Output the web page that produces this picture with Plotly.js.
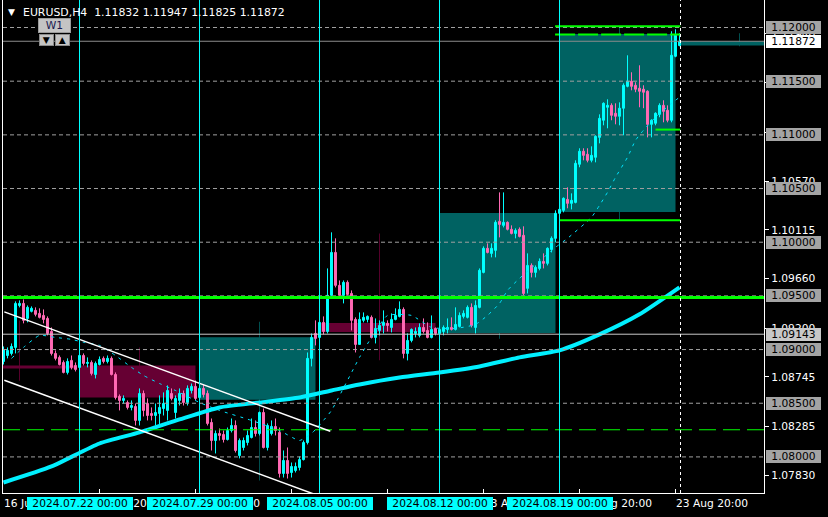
<!DOCTYPE html>
<html><head><meta charset="utf-8">
<script src="https://cdn.plot.ly/plotly-3.0.1.min.js"></script>
<style>html,body{margin:0;padding:0;background:#000;}#chart{width:828px;height:517px;}</style>
</head><body><div id="chart"></div>
<script>
// ---------------- DATA ----------------
const symbol = "EURUSD,H4";
// H4 bars, index 0 = 16 Jul 2024 20:00 ... 169 = 26 Aug 2024 00:00
const open = [
1.08889,1.08945,1.08964,1.09020,1.09411,1.09430,1.09290,1.09356,1.09365,1.09337,
1.09318,1.09290,1.09169,1.08964,1.08927,1.08880,1.08787,1.08899,1.08852,1.08834,
1.08945,1.08871,1.08880,1.08768,1.08861,1.08918,1.08889,1.08918,1.08768,1.08564,
1.08526,1.08507,1.08461,1.08470,1.08340,1.08591,1.08498,1.08405,1.08386,1.08405,
1.08451,1.08433,1.08591,1.08414,1.08526,1.08591,1.08507,1.08619,1.08657,1.08554,
1.08638,1.08591,1.08321,1.08153,1.08218,1.08209,1.08162,1.08246,1.08293,1.08013,
1.08088,1.08134,1.08181,1.08274,1.08218,1.08414,1.08088,1.08218,1.08284,1.08228,
1.07846,1.07967,1.07855,1.07874,1.07902,1.07975,1.08134,1.08918,1.09150,1.09113,
1.09253,1.09169,1.09505,1.09905,1.09598,1.09505,1.09626,1.09523,1.09281,1.09048,
1.09272,1.09281,1.09300,1.09113,1.09178,1.09225,1.09244,1.09206,1.09281,1.09309,
1.09374,1.08964,1.09085,1.09150,1.09132,1.09206,1.09178,1.09113,1.09197,1.09150,
1.09169,1.09188,1.09206,1.09188,1.09216,1.09309,1.09300,1.09393,1.09206,1.09393,
1.09719,1.09943,1.09896,1.09924,1.10194,1.10157,1.10185,1.10120,1.10082,1.10120,
1.10064,1.09570,1.09784,1.09719,1.09756,1.09821,1.09803,1.09933,1.10036,1.10269,
1.10297,1.10399,1.10362,1.10371,1.10726,1.10847,1.10819,1.10763,1.10791,1.10977,
1.11136,1.11257,1.11275,1.11201,1.11173,1.11248,1.11452,1.11499,1.11462,1.11434,
1.11425,1.11406,1.11098,1.11108,1.11191,1.11275,1.11229,1.11136,1.11732,1.11832];
const high = [
1.09029,1.09020,1.09057,1.09449,1.09458,1.09467,1.09411,1.09402,1.09393,1.09384,
1.09374,1.09309,1.09206,1.08992,1.08945,1.08899,1.08918,1.08945,1.08880,1.08964,
1.08964,1.08927,1.08899,1.08889,1.08936,1.08936,1.08945,1.08936,1.08787,1.08582,
1.08573,1.08526,1.08526,1.08498,1.08638,1.08619,1.08545,1.08461,1.08498,1.08573,
1.08601,1.08666,1.08638,1.08573,1.08638,1.08619,1.08666,1.08684,1.08712,1.08666,
1.08675,1.08619,1.08358,1.08246,1.08265,1.08246,1.08274,1.08358,1.08340,1.08172,
1.08181,1.08246,1.08358,1.08340,1.08423,1.08451,1.08312,1.08340,1.08358,1.08274,
1.08060,1.08088,1.07948,1.07948,1.08004,1.08153,1.08973,1.09150,1.09272,1.09290,
1.09309,1.09756,1.10092,1.10036,1.09644,1.09644,1.09644,1.09551,1.09300,1.09346,
1.09346,1.09318,1.09318,1.09290,1.09272,1.09365,1.09272,1.09337,1.09384,1.09449,
1.09393,1.09150,1.09197,1.09206,1.09244,1.09290,1.09253,1.09318,1.09206,1.09197,
1.09225,1.09290,1.09300,1.09393,1.09346,1.09365,1.09411,1.09430,1.09458,1.09756,
1.09961,1.09989,1.09989,1.10204,1.10464,1.10464,1.10194,1.10157,1.10129,1.10138,
1.10148,1.09896,1.09803,1.09784,1.09849,1.09896,1.09952,1.10054,1.10297,1.10325,
1.10418,1.10511,1.10455,1.10763,1.10875,1.10875,1.10875,1.10893,1.10996,1.11191,
1.11303,1.11331,1.11294,1.11294,1.11303,1.11480,1.11741,1.11583,1.11490,1.11648,
1.11462,1.11415,1.11145,1.11210,1.11294,1.11322,1.11275,1.11965,1.11984,1.11947];
const low = [
1.08861,1.08918,1.08945,1.08964,1.09393,1.09244,1.09253,1.09346,1.09309,1.09290,
1.09244,1.09132,1.08945,1.08899,1.08852,1.08778,1.08768,1.08815,1.08796,1.08824,
1.08852,1.08834,1.08759,1.08731,1.08852,1.08871,1.08871,1.08759,1.08535,1.08433,
1.08498,1.08442,1.08433,1.08293,1.08293,1.08377,1.08340,1.08340,1.08293,1.08293,
1.08386,1.08340,1.08526,1.08358,1.08479,1.08479,1.08479,1.08591,1.08526,1.08526,
1.08554,1.08293,1.08060,1.08032,1.08153,1.08134,1.08153,1.08228,1.08041,1.07986,
1.08060,1.08107,1.08172,1.08190,1.08200,1.08079,1.08060,1.08200,1.08200,1.07808,
1.07808,1.07799,1.07808,1.07855,1.07874,1.07967,1.08116,1.08843,1.09039,1.09039,
1.09141,1.09150,1.09486,1.09579,1.09486,1.09430,1.09505,1.09178,1.08973,1.09048,
1.09253,1.09253,1.09104,1.09057,1.09132,1.09150,1.09169,1.09160,1.09272,1.09300,
1.08918,1.08899,1.09067,1.09113,1.09113,1.09150,1.09104,1.09104,1.09132,1.09122,
1.09132,1.09150,1.09178,1.09178,1.09206,1.09290,1.09290,1.09206,1.09150,1.09384,
1.09710,1.09896,1.09859,1.09859,1.10045,1.10138,1.10110,1.10073,1.10036,1.10045,
1.09505,1.09523,1.09672,1.09672,1.09738,1.09756,1.09784,1.09905,1.09999,1.10250,
1.10278,1.10316,1.10306,1.10362,1.10698,1.10763,1.10744,1.10744,1.10744,1.10921,
1.11089,1.11061,1.11136,1.11098,1.11089,1.10996,1.11443,1.11415,1.11397,1.11257,
1.11248,1.10977,1.10977,1.11089,1.11164,1.11117,1.11117,1.11117,1.11723,1.11825];
const close = [
1.09001,1.08992,1.09029,1.09430,1.09430,1.09272,1.09393,1.09384,1.09328,1.09300,
1.09281,1.09150,1.08964,1.08918,1.08861,1.08787,1.08889,1.08834,1.08815,1.08945,
1.08871,1.08880,1.08778,1.08871,1.08908,1.08889,1.08918,1.08768,1.08554,1.08526,
1.08545,1.08461,1.08479,1.08340,1.08591,1.08433,1.08386,1.08386,1.08414,1.08461,
1.08498,1.08619,1.08545,1.08545,1.08591,1.08507,1.08638,1.08657,1.08545,1.08638,
1.08582,1.08312,1.08153,1.08218,1.08200,1.08162,1.08246,1.08293,1.08060,1.08153,
1.08153,1.08200,1.08274,1.08218,1.08414,1.08088,1.08293,1.08284,1.08246,1.07846,
1.07967,1.07846,1.07911,1.07911,1.07975,1.08134,1.08918,1.09113,1.09104,1.09253,
1.09169,1.09505,1.09905,1.09598,1.09505,1.09626,1.09514,1.09272,1.09048,1.09281,
1.09300,1.09309,1.09113,1.09197,1.09225,1.09253,1.09225,1.09281,1.09318,1.09374,
1.08964,1.09085,1.09188,1.09169,1.09206,1.09169,1.09113,1.09188,1.09150,1.09188,
1.09206,1.09206,1.09188,1.09234,1.09318,1.09337,1.09393,1.09225,1.09411,1.09738,
1.09943,1.09905,1.09943,1.10185,1.10166,1.10185,1.10120,1.10082,1.10110,1.10054,
1.09523,1.09784,1.09719,1.09766,1.09821,1.09803,1.09943,1.10036,1.10269,1.10306,
1.10409,1.10362,1.10390,1.10735,1.10847,1.10809,1.10763,1.10809,1.10986,1.11154,
1.11294,1.11275,1.11182,1.11173,1.11248,1.11462,1.11499,1.11452,1.11425,1.11406,
1.11397,1.11098,1.11136,1.11201,1.11275,1.11219,1.11136,1.11741,1.11928,1.11872];

// slow moving average (thick line), read at sample bars
const maBars = [0,12,24,34,44,54,64,74,82,89,99,109,119,129,139,149,159,169];
const maVals = [1.07762,1.07911,1.08125,1.08228,1.08349,1.08461,1.08507,1.08554,1.08619,1.08675,1.08740,1.08787,1.08843,1.08927,1.08992,1.09141,1.09328,1.09579];
// fast moving average (dotted line)
const fmBars = [2,5,9,13,17,20,24,28,32,35,39,43,49,54,62,69,74,77,80,82,89,92,96,102,107,113,118,121,124,126,129,138,141,147,149,151,153,156,158,160,163,167,169];
const fmVals = [1.08918,1.09020,1.09132,1.09113,1.09095,1.09067,1.09039,1.08945,1.08834,1.08759,1.08684,1.08619,1.08507,1.08433,1.08340,1.08246,1.08153,1.08218,1.08340,1.08433,1.08927,1.09113,1.09318,1.09318,1.09206,1.09197,1.09234,1.09318,1.09430,1.09551,1.09663,1.09952,1.10036,1.10232,1.10343,1.10465,1.10604,1.10791,1.10949,1.11043,1.11164,1.11294,1.11350];

// weekly candles (first bar of each week)
const wkStart = [-11,19,49,79,109,139,169];
const wkOpen  = [1.08852,1.08852,1.08533,1.09247,1.09155,1.10282,1.11832];
const wkClose = [1.08824,1.08554,1.09115,1.09163,1.10273,1.11940,1.11872];
const wkHigh  = [1.09270,1.09020,1.09260,1.10080,1.10460,1.12000,1.11947];
const wkLow   = [1.08710,1.08300,1.07780,1.08900,1.09100,1.10200,1.11825];

// axis labels
const xTickBars = [0,24,48,72,96,120,144,168];
const xTickText = ["16 Jul 2024","22 Jul 20:00","26 Jul 20:00","1 Aug 20:00","7 Aug 20:00","13 Aug 20:00","19 Aug 20:00","23 Aug 20:00"];
const sepBars = [19,49,79,109,139];
const sepText = ["2024.07.22 00:00","2024.07.29 00:00","2024.08.05 00:00","2024.08.12 00:00","2024.08.19 00:00"];
const yTickVals = [1.07830,1.08285,1.08745,1.09200,1.09660,1.10115,1.10570,1.11025,1.11485,1.11940];
const roundLevels = [1.08,1.085,1.09,1.095,1.10,1.105,1.11,1.115,1.12];
const hLinePrice = 1.09143;
const currentBar = 169.25;

// green horizontal lines
const greenPrices = [1.09484,1.12012,1.11934,1.10204,1.11049,1.08253];
const greenFrom   = [null,137.9,137.9,139,163,null];
const greenTo     = [null,169.2,169.2,169.2,169.2,null];
// channel
const chanBars  = [0.2,81.7];
const chanUpper = [1.09351,1.08239];
const chanLower = [1.08714,1.07598];

// ---------------- DRAW ----------------
const FONT = "DejaVu Sans, sans-serif";
const FS = 10.7;
const UP = "#00FFFF", DN = "#FF69B4";
const bars = open.map((_, i) => i);
const bidPrice = close[close.length - 1];
const XR = [-0.125, 190.125];
const YR = [1.076639, 1.122562];

const wkBull = wkStart.map((_, i) => wkClose[i] >= wkOpen[i]);
const traces = [
  { type: 'bar', x: wkStart.map(s => s + 15), base: wkLow, y: wkHigh.map((h, i) => h - wkLow[i]),
    width: 0.25, marker: { color: wkBull.map(b => b ? '#005050' : '#55002B'), line: { width: 0 } }, hoverinfo: 'skip' },
  { type: 'bar', x: wkStart.map(s => s + 14.5), base: wkOpen.map((o, i) => Math.min(o, wkClose[i])),
    y: wkOpen.map((o, i) => Math.abs(wkClose[i] - o)), width: 29,
    marker: { color: wkBull.map(b => b ? '#006262' : '#660033'), line: { width: 0 } }, hoverinfo: 'skip' },
  { type: 'candlestick', x: bars, open: open, high: high, low: low, close: close,
    increasing: { line: { color: UP, width: 1 }, fillcolor: UP },
    decreasing: { line: { color: DN, width: 1 }, fillcolor: DN },
    whiskerwidth: 0, hoverinfo: 'skip' },
  { type: 'scatter', mode: 'lines', x: maBars, y: maVals, line: { color: '#00F0FF', width: 4, shape: 'spline', smoothing: 0.6 }, hoverinfo: 'skip' },
  { type: 'scatter', mode: 'lines', x: fmBars, y: fmVals, line: { color: '#00E5FF', width: 1, dash: '3px,5px', shape: 'spline', smoothing: 0.5 }, hoverinfo: 'skip' }
];

const shapes = [];
roundLevels.forEach(v => shapes.push({ type: 'line', xref: 'paper', x0: 0, x1: 1, yref: 'y', y0: v, y1: v,
  line: { color: '#A0A0A0', width: 1, dash: '4px,3px' }, layer: 'above' }));
shapes.push({ type: 'line', xref: 'paper', x0: 0, x1: 1, yref: 'y', y0: bidPrice, y1: bidPrice, line: { color: '#8C8C8C', width: 1 }, layer: 'above' });
shapes.push({ type: 'line', xref: 'paper', x0: 0, x1: 1, yref: 'y', y0: hLinePrice, y1: hLinePrice, line: { color: '#C8C8C8', width: 1 }, layer: 'above' });
const gW = [3, 2, 2, 2, 2, 1];
const gD = ['solid', 'solid', '20px,3px', 'solid', 'solid', '17px,7px'];
greenPrices.forEach((p, i) => {
  const full = greenFrom[i] === null;
  shapes.push({ type: 'line', xref: full ? 'paper' : 'x', x0: full ? 0 : greenFrom[i], x1: full ? 1 : greenTo[i],
    yref: 'y', y0: p, y1: p, line: { color: '#00FF00', width: gW[i], dash: gD[i] }, layer: 'above' });
});
shapes.push({ type: 'line', xref: 'x', yref: 'y', x0: chanBars[0], x1: chanBars[1], y0: chanUpper[0], y1: chanUpper[1], line: { color: '#FFFFFF', width: 1.5 }, layer: 'above' });
shapes.push({ type: 'line', xref: 'x', yref: 'y', x0: chanBars[0], x1: chanBars[1], y0: chanLower[0], y1: chanLower[1], line: { color: '#FFFFFF', width: 1.5 }, layer: 'above' });
sepBars.forEach(b => shapes.push({ type: 'line', xref: 'x', x0: b, x1: b, yref: 'paper', y0: 0, y1: 1, line: { color: '#00FFFF', width: 1 }, layer: 'above' }));
shapes.push({ type: 'line', xref: 'x', x0: currentBar, x1: currentBar, yref: 'paper', y0: 0, y1: 1, line: { color: '#FFFFFF', width: 1, dash: '3px,3px' }, layer: 'above' });

const ES = '\u2002', NB = '\u00A0';
const ann = [];
// header
ann.push({ xref: 'paper', yref: 'paper', x: 0, y: 1, xanchor: 'left', yanchor: 'middle', xshift: 3, yshift: -12,
  text: '\u25BC', font: { family: FONT, size: 9, color: '#FFFFFF' }, showarrow: false });
ann.push({ xref: 'paper', yref: 'paper', x: 0, y: 1, xanchor: 'left', yanchor: 'middle', xshift: 18, yshift: -12,
  text: symbol + NB + NB + [open, high, low, close].map(a => a[a.length - 1].toFixed(5)).join(' '),
  font: { family: FONT, size: 10.9, color: '#FFFFFF' }, showarrow: false });
ann.push({ xref: 'paper', yref: 'paper', x: 0, y: 1, xanchor: 'center', yanchor: 'middle', xshift: 51, yshift: -25,
  text: NB + NB + 'W1' + NB + NB, bgcolor: '#C4C4C4', bordercolor: '#9A9A9A', borderwidth: 1, borderpad: 0,
  font: { family: FONT, size: FS, color: '#1A1A50' }, showarrow: false });
[['\u25BC', 43], ['\u25B2', 59]].forEach(t => ann.push({ xref: 'paper', yref: 'paper', x: 0, y: 1, xanchor: 'center', yanchor: 'middle',
  xshift: t[1], yshift: -40, text: NB + t[0] + NB, bgcolor: '#C4C4C4', bordercolor: '#8A8A8A', borderwidth: 1, borderpad: 0,
  font: { family: FONT, size: 9, color: '#000000' }, showarrow: false }));
// time labels
xTickBars.forEach((b, i) => ann.push({ xref: 'x', yref: 'paper', x: b, y: 0, xanchor: 'left', yanchor: 'top', yshift: -4,
  text: xTickText[i], font: { family: FONT, size: FS, color: '#FFFFFF' }, showarrow: false, borderpad: 0, borderwidth: 0 }));
sepBars.forEach((b, i) => ann.push({ xref: 'x', yref: 'paper', x: b, y: 0, xanchor: 'center', yanchor: 'top', yshift: -4,
  text: ES + sepText[i] + ES, bgcolor: '#00FFFF', font: { family: FONT, size: FS, color: '#000000' }, showarrow: false, borderpad: 0, borderwidth: 0 }));
// price boxes
function priceBox(v, bg) {
  ann.push({ xref: 'paper', yref: 'y', x: 1, y: v, xanchor: 'left', yanchor: 'middle', xshift: 2,
    text: ES + v.toFixed(5) + ES, bgcolor: bg, font: { family: FONT, size: FS, color: '#000000' }, showarrow: false, borderpad: 0, borderwidth: 0 });
}
roundLevels.forEach(v => priceBox(v, '#A4A4A4'));
priceBox(hLinePrice, '#C8C8C8');
priceBox(bidPrice, '#FFFFFF');

const layout = {
  width: 828, height: 517,
  margin: { l: 3, r: 64, t: 0, b: 24, pad: 0 },
  paper_bgcolor: '#000000', plot_bgcolor: '#000000',
  showlegend: false, barmode: 'overlay', hovermode: false,
  font: { family: FONT, size: FS, color: '#FFFFFF' },
  xaxis: { type: 'linear', range: XR, rangeslider: { visible: false }, showgrid: false, zeroline: false,
    showline: true, linecolor: '#FFFFFF', linewidth: 1, ticks: 'inside', ticklen: 4, tickcolor: '#FFFFFF',
    tickmode: 'array', tickvals: xTickBars, showticklabels: false, fixedrange: true },
  yaxis: { range: YR, side: 'right', showgrid: false, zeroline: false, showline: true, mirror: true,
    linecolor: '#FFFFFF', linewidth: 1, ticks: 'outside', ticklen: 4, tickcolor: '#FFFFFF',
    tickmode: 'array', tickvals: yTickVals, ticktext: yTickVals.map(v => v.toFixed(5)),
    tickfont: { family: FONT, size: FS, color: '#FFFFFF' }, fixedrange: true },
  shapes: shapes,
  annotations: ann
};
Plotly.newPlot('chart', traces, layout, { staticPlot: true, displayModeBar: false });
</script></body></html>
